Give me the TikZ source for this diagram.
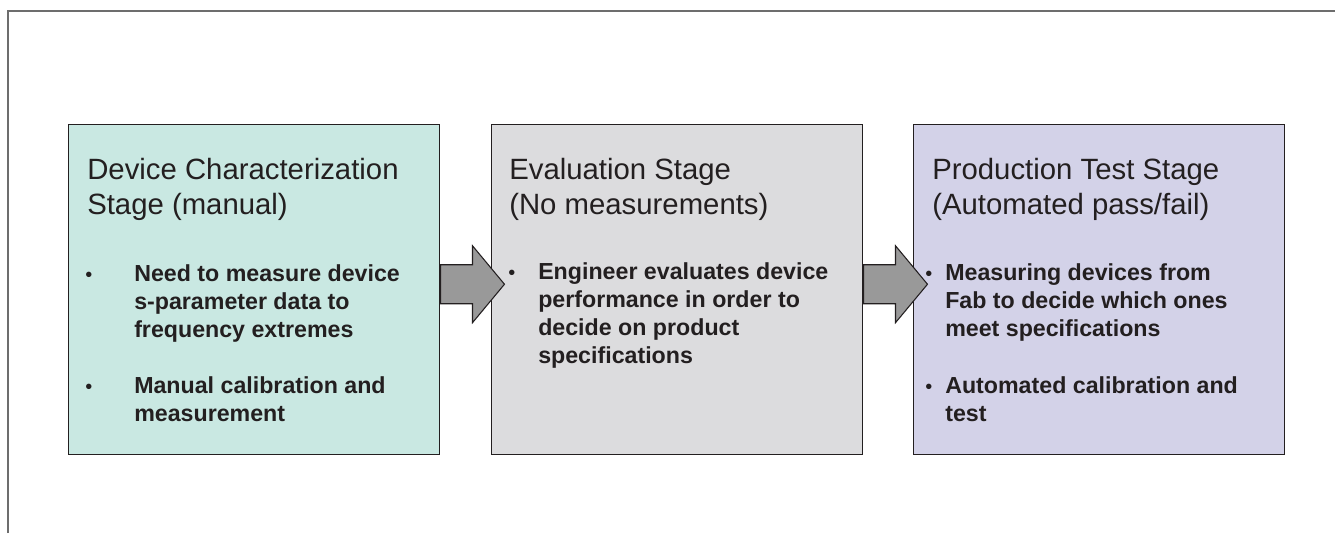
\documentclass[tikz,border=0pt]{standalone}
\usepackage{fontspec}
\setmainfont{Liberation Sans}
\usetikzlibrary{calc}

\definecolor{framegray}{HTML}{6D6D6D}
\definecolor{inkdark}{HTML}{231F20}
\definecolor{tealfill}{HTML}{C9E8E2}
\definecolor{grayfill}{HTML}{DCDCDE}
\definecolor{lilacfill}{HTML}{D3D2E8}
\definecolor{arrowfill}{HTML}{999999}

% multi-line nodes are placed by the baseline of their last line
\tikzset{
  stagebox/.style={draw=inkdark, line width=1.1pt, rectangle, anchor=north west,
    minimum width=278.25pt, minimum height=247.5pt, inner sep=0pt},
  stagetitle/.style={anchor=base west, inner sep=0pt, align=left, text=inkdark,
    font=\fontsize{22}{26.25}\selectfont},
  pointtext/.style={anchor=base west, inner sep=0pt, align=left, text=inkdark,
    font=\fontsize{17.4}{21}\selectfont\bfseries},
  pointdot/.style={anchor=base west, inner sep=0pt, text=inkdark,
    font=\fontsize{15}{21}\selectfont},
  flowarrow/.style={draw=inkdark, line width=0.8pt, fill=arrowfill, line join=miter},
}

% block arrow leaving the right side of one stage box
\newcommand\stagearrow[1]{%
  \path (#1.east) ++(0,-5.5) coordinate (#1-out);
  \draw[flowarrow] ($(#1-out)+(0,-19.5)$) -- ++(32,0) -- ++(0,-19) --
    ($(#1-out)+(64,0)$) -- ($(#1-out)+(32,38.5)$) -- ++(0,-19) --
    ($(#1-out)+(0,19.5)$) -- cycle;
}

\begin{document}
\begin{tikzpicture}[x=0.75pt, y=-0.75pt]
\useasboundingbox (0,0) rectangle (1335,533);

% outer frame (open to the right and bottom)
\draw[framegray, line width=1.6pt] (8,533) -- (8,11) -- (1335,11);

% stage boxes
\node[stagebox, fill=tealfill]  (b1) at (68,124)  {};
\node[stagebox, fill=grayfill]  (b2) at (491,124) {};
\node[stagebox, fill=lilacfill] (b3) at (913,124) {};

% stage 1
\node[stagetitle] (t1) at (87,214) {Device Characterization\\Stage (manual)};
\node[pointdot] (d11) at (85,281) {•};
\node[pointtext] (p11) at (134,337) {Need to measure device\\s-parameter data to\\frequency extremes};
\node[pointdot] (d12) at (85,393) {•};
\node[pointtext] (p12) at (134,421) {Manual calibration and\\measurement};

% stage 2
\node[stagetitle] (t2) at (509,214) {Evaluation Stage\\(No measurements)};
\node[pointdot] (d21) at (508,279) {•};
\node[pointtext] (p21) at (538,363) {Engineer evaluates device\\performance in order to\\decide on product\\specifications};

% stage 3
\node[stagetitle] (t3) at (932,214) {Production Test Stage\\(Automated pass/fail)};
\node[pointdot] (d31) at (925,280) {•};
\node[pointtext] (p31) at (945,336) {Measuring devices from\\Fab to decide which ones\\meet specifications};
\node[pointdot] (d32) at (925,393) {•};
\node[pointtext] (p32) at (945,421) {Automated calibration and\\test};

% arrows between stages
\stagearrow{b1}
\stagearrow{b2}
\end{tikzpicture}
\end{document}
